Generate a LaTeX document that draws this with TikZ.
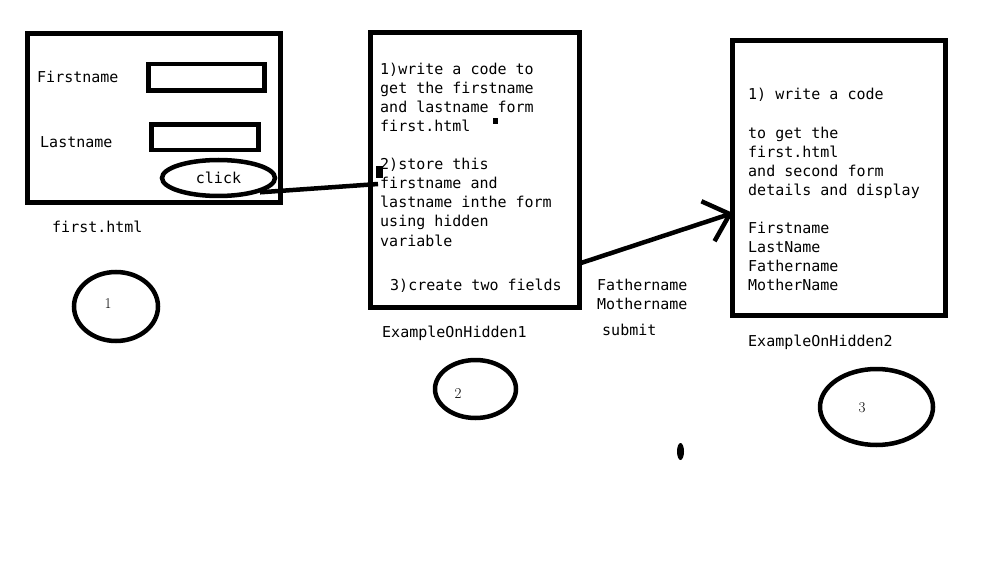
\documentclass[tikz,border=0pt]{standalone}
\usepackage{fontspec}
\setmonofont{DejaVu Sans Mono}
\usetikzlibrary{shapes.geometric, arrows.meta}
\tikzstyle{page}=[draw, line width=5pt, inner sep=0pt, outer sep=0pt, anchor=north west]
\tikzstyle{field}=[draw, line width=4.5pt, inner sep=0pt, outer sep=0pt, anchor=north west]
\tikzstyle{oval}=[draw, ellipse, line width=4.5pt, inner sep=0pt]
\tikzstyle{txt}=[inner sep=0pt, anchor=base west, align=left, font=\ttfamily\fontsize{15}{19}\selectfont]
\tikzstyle{digit}=[inner sep=0pt, font=\rmfamily\fontsize{15}{17}\selectfont]
\tikzstyle{wire}=[line width=4.5pt]

\begin{document}
\begin{tikzpicture}[x=1pt, y=-1pt]
  \useasboundingbox (0,0) rectangle (1000,561);
  % first.html
  \node[page, minimum width=252.5pt, minimum height=169.5pt] (form) at (27.5,33.5) {};
  \node[txt] (fnlabel) at (37,83) {Firstname};
  \node[field, minimum width=116pt, minimum height=26.5pt] (fnbox) at (148.5,64) {};
  \node[txt] (lnlabel) at (40,148) {Lastname};
  \node[field, minimum width=107pt, minimum height=25.5pt] (lnbox) at (151.5,124.5) {};
  \node[oval, minimum width=113pt, minimum height=36pt, font=\ttfamily\fontsize{15}{19}\selectfont] (click) at (218.5,178) {click};
  \node[txt] (formname) at (52,233) {first.html};
  \node[oval, minimum width=84pt, minimum height=69pt] (c1) at (116,306.5) {};
  \node[digit] (n1) at (108,304) {1};

  % ExampleOnHidden1
  \node[page, minimum width=209pt, minimum height=275pt] (hidden1) at (370.5,32.5) {};
  \node[txt] (steps1) at (380,246) {1)write a code to\\get the firstname\\and lastname form\\first.html\\[19pt]2)store this\\firstname and\\lastname inthe form\\using hidden\\variable};
  \node[txt] (step3) at (390,290) {3)create two fields};
  \node[txt] (h1name) at (382,337) {ExampleOnHidden1};
  \node[oval, minimum width=81pt, minimum height=58pt] (c2) at (475.5,389) {};
  \node[digit] (n2) at (458,394) {2};
  \fill (493,118) rectangle (498,124);
  \fill (376,166) rectangle (383,178);

  % fields passed on
  \node[txt] (extra) at (597,309) {Fathername\\Mothername};
  \node[txt] (submit) at (602,335) {submit};

  % ExampleOnHidden2
  \node[page, minimum width=213pt, minimum height=274.5pt] (hidden2) at (732,41) {};
  \node[txt] (steps2) at (748,290) {1) write a code\\[19pt]to get the\\first.html\\and second form\\details and display\\[19pt]Firstname\\LastName\\Fathername\\MotherName};
  \node[txt] (h2name) at (748,346) {ExampleOnHidden2};
  \node[oval, minimum width=113pt, minimum height=76pt] (c3) at (876.5,407) {};
  \node[digit] (n3) at (862,408) {3};
  \fill (680.5,451.5) ellipse (3.5 and 8.5);

  \coordinate (in1) at (378,184);
  \coordinate (out1) at (581,263);
  \coordinate (in2) at (733,213);
  \draw[wire] (click.-19) -- (in1);
  \draw[wire, line join=round, -{Straight Barb[length=23pt, width=42pt]}] (out1) -- (in2);
\end{tikzpicture}
\end{document}
